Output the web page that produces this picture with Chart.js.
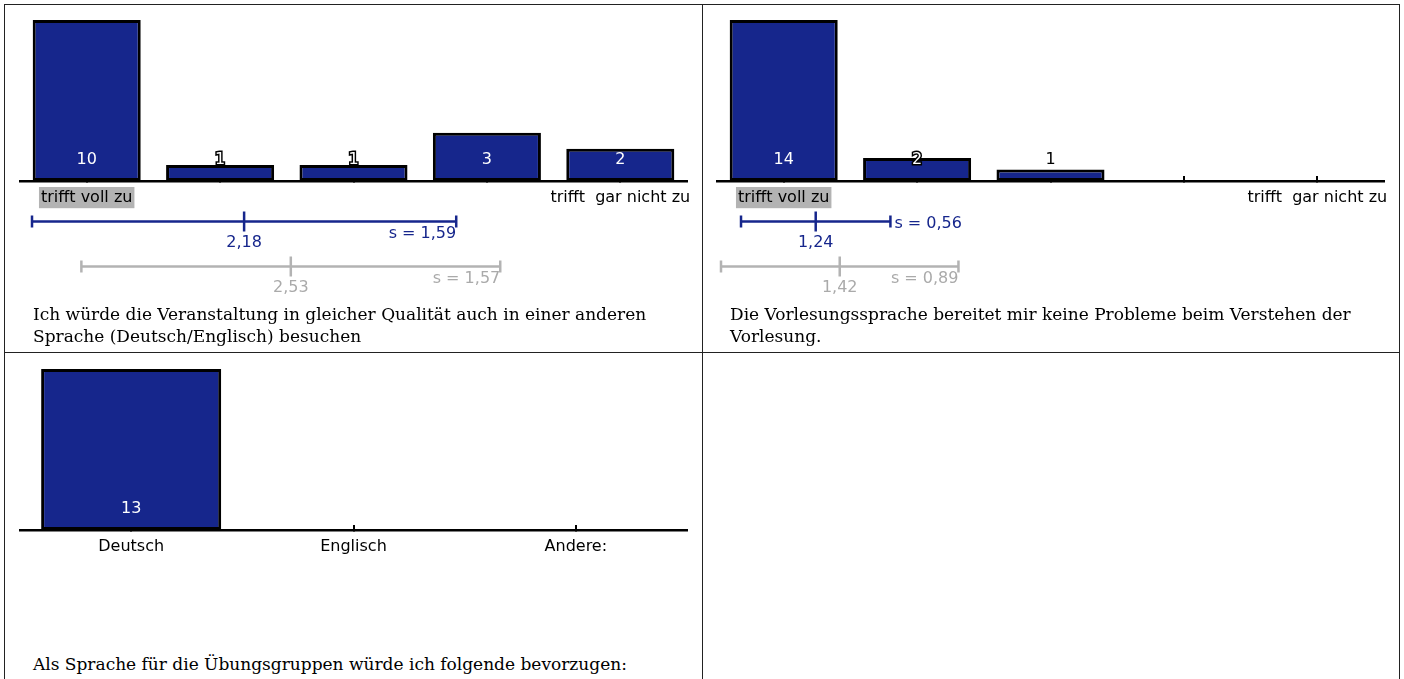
<!DOCTYPE html>
<html lang="de">
<head>
<meta charset="utf-8">
<script src="https://cdn.jsdelivr.net/npm/chart.js@4.4.1/dist/chart.umd.min.js"></script>
<style>
  body { margin: 0; background: #fff; width: 1404px; height: 679px; overflow: hidden; position: relative; }
  .frame { position: absolute; left: 4px; top: 4px; width: 1394px; height: 720px; border: 1px solid #222; }
  .vline { position: absolute; left: 702px; top: 4px; width: 1px; height: 720px; background: #222; }
  .hline { position: absolute; left: 4px; top: 352px; width: 1396px; height: 1px; background: #222; }
  canvas { position: absolute; }
  .question { position: absolute; font-family: 'DejaVu Serif', serif; font-size: 17px; line-height: 22px; color: #000; white-space: nowrap; }
</style>
</head>
<body>
<div class="frame"></div>
<div class="vline"></div>
<div class="hline"></div>

<canvas id="bars-1" width="707" height="200" style="left:0px;top:16px"></canvas>
<canvas id="stats-1" width="707" height="110" style="left:0px;top:196px"></canvas>
<div class="question" id="q-1" style="left:33px;top:303px"></div>

<canvas id="bars-2" width="707" height="200" style="left:697px;top:16px"></canvas>
<canvas id="stats-2" width="707" height="110" style="left:697px;top:196px"></canvas>
<div class="question" id="q-2" style="left:730px;top:303px"></div>

<canvas id="bars-3" width="707" height="200" style="left:0px;top:365px"></canvas>
<div class="question" id="q-3" style="left:33px;top:653px"></div>

<script>
'use strict';
//data
let scaleLabels = ['trifft voll zu', '', '', '', 'trifft  gar nicht zu'];

let q1Text = 'Ich würde die Veranstaltung in gleicher Qualität auch in einer anderen<br>Sprache (Deutsch/Englisch) besuchen';
let q1Counts = [10, 1, 1, 3, 2];
let q1Means = [2.18, 2.53];
let q1Sds = [1.59, 1.57];

let q2Text = 'Die Vorlesungssprache bereitet mir keine Probleme beim Verstehen der<br>Vorlesung.';
let q2Counts = [14, 2, 1, 0, 0];
let q2Means = [1.24, 1.42];
let q2Sds = [0.56, 0.89];

let q3Text = 'Als Sprache für die Übungsgruppen würde ich folgende bevorzugen:';
let q3Labels = ['Deutsch', 'Englisch', 'Andere:'];
let q3Counts = [13, 0, 0];

//styles
let barBlue = '#16268c';
let rowColors = [barBlue, '#b3b3b3'];
let rowTextColors = [barBlue, '#aaaaaa'];
let font = {family: 'DejaVu Sans', size: 16};

function fmt(v){
  return v.toFixed(2).replace('.', ',');
}

//count labels in the bars
let valueLabels = {
  id: 'valueLabels',
  afterDraw(chart){
    let ctx = chart.ctx;
    let data = chart.data.datasets[0].data;
    let meta = chart.getDatasetMeta(0);
    ctx.save();
    ctx.font = '16px "DejaVu Sans"';
    ctx.textAlign = 'center';
    ctx.textBaseline = 'middle';
    meta.data.forEach(function(bar, i){
      if (!data[i]) return;
      let h = bar.base - bar.y;
      let y = bar.base - 21;
      if (h >= 30){
        ctx.fillStyle = '#fff';
        ctx.fillText(String(data[i]), bar.x, y);
      } else if (h >= 14){
        ctx.lineWidth = 3;
        ctx.strokeStyle = '#000';
        ctx.strokeText(String(data[i]), bar.x, y);
        ctx.fillStyle = '#fff';
        ctx.fillText(String(data[i]), bar.x, y);
      } else {
        ctx.fillStyle = '#000';
        ctx.fillText(String(data[i]), bar.x, y);
      }
    });
    ctx.restore();
  }
};

//mean and s labels
let statLabels = {
  id: 'statLabels',
  afterDatasetsDraw(chart){
    let ctx = chart.ctx;
    ctx.save();
    ctx.font = '16px "DejaVu Sans"';
    ctx.textBaseline = 'middle';
    chart.data.datasets.forEach(function(ds, i){
      if (!ds.stat) return;
      let meanPt = chart.getDatasetMeta(i).data[0];
      let rangePts = chart.getDatasetMeta(i - 1).data;
      let right = rangePts[1];
      let meanText = fmt(ds.stat.mean);
      let sText = 's = ' + fmt(ds.stat.sd);
      ctx.fillStyle = ds.stat.color;
      ctx.textAlign = 'center';
      ctx.fillText(meanText, meanPt.x, meanPt.y + 21);
      let sW = ctx.measureText(sText).width;
      let half = ctx.measureText(meanText).width / 2;
      if (right.x - sW - 4 > meanPt.x + half){
        ctx.textAlign = 'right';
        ctx.fillText(sText, right.x, right.y + 12);
      } else {
        ctx.textAlign = 'left';
        ctx.fillText(sText, right.x + 4, right.y + 2);
      }
    });
    ctx.restore();
  }
};

function renderBars(id, labels, counts, firstBackdrop){
  let ctx = document.getElementById(id).getContext('2d');
  new Chart(ctx, {
    type: 'bar',
    data: {
      labels: labels,
      datasets: [{
        data: counts,
        backgroundColor: barBlue,
        borderColor: '#000',
        borderWidth: 3,
        borderSkipped: false,
        barPercentage: 0.81,
        categoryPercentage: 1
      }]
    },
    options: {
      responsive: false,
      animation: false,
      events: [],
      layout: {padding: {left: 20, right: 20, top: 4, bottom: 0}, autoPadding: false},
      plugins: {legend: {display: false}, tooltip: {enabled: false}},
      scales: {
        x: {
          z: 1,
          afterFit: function(scale){ scale.height = 35; },
          grid: {offset: false, drawOnChartArea: false, color: '#000', lineWidth: 2, tickLength: -5},
          border: {display: true, color: '#000', width: 2.5},
          ticks: {
            color: '#000',
            font: font,
            padding: 12,
            maxRotation: 0,
            autoSkip: false,
            showLabelBackdrop: function(c){ return firstBackdrop && c.index === 0; },
            backdropColor: '#b3b3b3',
            backdropPadding: {top: 1, bottom: 1, left: 2, right: 2}
          }
        },
        y: {display: false, min: 0, max: Math.max(...counts)}
      }
    },
    plugins: [valueLabels]
  });
}

function renderStats(id, means, sds){
  let datasets = [];
  for (let r = 0; r < means.length; r++){
    datasets.push({
      data: [{x: means[r] - sds[r], y: r}, {x: means[r] + sds[r], y: r}],
      showLine: true,
      borderColor: rowColors[r],
      borderWidth: 2.5,
      pointStyle: 'line',
      rotation: 90,
      pointRadius: 6,
      pointBorderColor: rowColors[r],
      pointBorderWidth: 2.5,
      clip: false
    });
    datasets.push({
      data: [{x: means[r], y: r}],
      pointStyle: 'line',
      rotation: 90,
      pointRadius: 10,
      pointBorderColor: rowColors[r],
      pointBorderWidth: 2.5,
      clip: false,
      stat: {mean: means[r], sd: sds[r], color: rowTextColors[r]}
    });
  }
  let ctx = document.getElementById(id).getContext('2d');
  new Chart(ctx, {
    type: 'scatter',
    data: {datasets: datasets},
    options: {
      responsive: false,
      animation: false,
      events: [],
      layout: {padding: {left: 20, right: 20, top: 3, bottom: 17}, autoPadding: false},
      plugins: {legend: {display: false}, tooltip: {enabled: false}},
      scales: {
        x: {display: false, type: 'linear', min: 0.5, max: 5.5},
        y: {display: false, min: -0.5, max: 1.5, reverse: true}
      }
    },
    plugins: [statLabels]
  });
}

document.querySelector('#q-1').innerHTML = q1Text;
document.querySelector('#q-2').innerHTML = q2Text;
document.querySelector('#q-3').innerHTML = q3Text;

renderBars('bars-1', scaleLabels, q1Counts, true);
renderStats('stats-1', q1Means, q1Sds);
renderBars('bars-2', scaleLabels, q2Counts, true);
renderStats('stats-2', q2Means, q2Sds);
renderBars('bars-3', q3Labels, q3Counts, false);
</script>
</body>
</html>
